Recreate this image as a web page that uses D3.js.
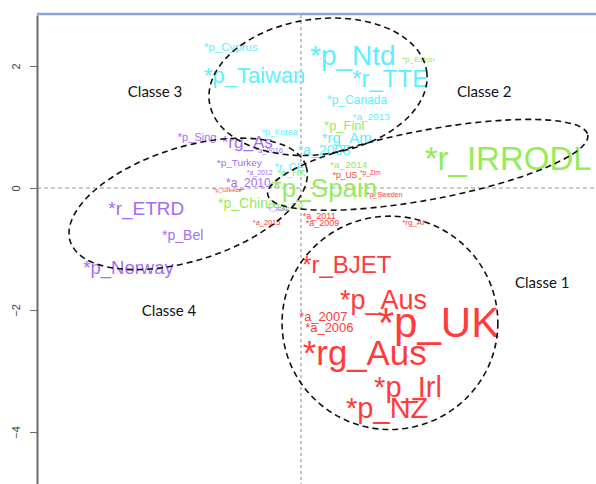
<!DOCTYPE html>
<html>
<head>
<meta charset="utf-8">
<script src="https://cdn.jsdelivr.net/npm/d3@7"></script>
<style>
  body { margin:0; background:#fff; }
  svg text { font-family:"Liberation Sans", Arial, sans-serif; }
</style>
</head>
<body>
<div id="chart"></div>
<script>
//
//  factor map with class ellipses (labels sized by contribution, cex)
//
const groups = ["cyan", "green", "purple", "red"];
const groupColor = {cyan:"#5cf0ff", green:"#93ec5a", purple:"#a46cf6", red:"#ff3b3b"};

const cyanLabels = ["*p_Cyprus","*p_Taiwan","*p_Ntd","*r_TTE","*p_Canada","*a_2013","*rg_Am","*a_2008","*p_Korea","*r_CE"];
const cyanX = [-1.59,-1.59,0.15,0.84,0.43,0.85,0.34,-0.05,-0.64,-0.43];
const cyanY = [2.31,1.85,2.18,1.80,1.44,1.18,0.82,0.62,0.92,0.34];
const cyanCex = [0.96,1.83,2.33,2.0,1.0,0.83,1.25,1.17,0.71,0.92];

const greenLabels = ["*p_Eston","*p_Finl","*r_IRRODL","*a_2014","*p_HK","*p_Spain","*p_China","*rg_Eu"];
const greenX = [1.66,0.38,2.03,0.48,-0.39,-0.48,-1.36,-0.46];
const greenY = [2.11,1.02,0.49,0.38,0.25,0.0,-0.25,-0.28];
const greenCex = [0.67,1.08,2.75,0.83,0.83,2.17,1.17,0.83];

const purpleLabels = ["*p_Sing","*rg_As","*a_2016","*p_Turkey","*a_2012","*a_2010","*r_JEAP","*r_ETRD","*p_Bel","*p_Norway"];
const purpleX = [-2.02,-1.30,-0.75,-1.38,-0.89,-1.23,-0.56,-3.16,-2.28,-3.57];
const purpleY = [0.84,0.75,0.61,0.41,0.25,0.08,-0.34,-0.34,-0.77,-1.31];
const purpleCex = [0.92,1.42,0.62,0.83,0.58,1.0,0.5,1.58,1.17,1.54];

const redLabels = ["*p_Greece","*a_2015","*a_2011","*a_2009","*p_US","*p_Zim","*p_Sweden","*rg_Af","*r_BJET","*p_Aus","*a_2007","*a_2006","*p_UK","*rg_Aus","*p_Irl","*p_NZ"];
const redX = [-1.44,-0.79,0.03,0.08,0.52,0.97,1.08,1.66,0.02,0.64,-0.03,0.07,1.26,0.03,1.20,0.74];
const redY = [-0.03,-0.56,-0.46,-0.57,0.21,0.26,-0.10,-0.57,-1.26,-1.84,-2.10,-2.28,-2.21,-2.70,-3.26,-3.61];
const redCex = [0.5,0.62,0.75,0.75,0.71,0.54,0.58,0.67,2.0,2.25,1.08,1.08,3.5,2.9,2.42,2.42];

// class ellipses: centre, radii (axis units), rotation in degrees
const classNames = ["Classe 1","Classe 2","Classe 3","Classe 4"];
const classCx = [1.46,2.08,0.28,-1.85];
const classCy = [-2.21,0.38,1.66,-0.26];
const classRx = [1.77,2.67,1.80,2.03];
const classRy = [1.75,0.57,1.11,0.93];
const classRot = [0,-10.6,-8,-17.6];
const classLabelX = [3.51,2.56,-2.84,-2.61];
const classLabelY = [-1.54,1.59,1.59,-2.0];

const yTicks = [-4,-2,0,2];

const W = 596, H = 484;
const svg = d3.select("#chart").append("svg").attr("width", W).attr("height", H);

let x = d3.scaleLinear().domain([-4.33, 4.84]).range([37, 596]);
let y = d3.scaleLinear().domain([2.836, -4.852]).range([15, 484]);
let fontSize = d3.scaleLinear().domain([0, 1]).range([0, 12]);
let unit = x(1) - x(0);

// reference lines at 0
svg.append("line")
  .attr("x1", x.range()[0]).attr("x2", x.range()[1])
  .attr("y1", y(0)).attr("y2", y(0))
  .attr("stroke", "#9a9a9a").attr("stroke-dasharray", "4,3");
svg.append("line")
  .attr("x1", x(0)).attr("x2", x(0))
  .attr("y1", y.range()[0]).attr("y2", y.range()[1])
  .attr("stroke", "#b0b0b0").attr("stroke-width", 1.5).attr("stroke-dasharray", "3,3");

// y axis
let yaxis = svg.append("g")
  .attr("transform", "translate(" + x.range()[0] + ",0)")
  .call(d3.axisLeft(y).tickValues(yTicks).tickSize(7).tickSizeOuter(0));
yaxis.select(".domain").attr("stroke", "#6a6a6a").attr("stroke-width", 2);
yaxis.selectAll(".tick line").attr("stroke", "#6a6a6a");
yaxis.selectAll(".tick text")
  .attr("font-size", 11).attr("fill", "#444")
  .attr("text-anchor", "middle")
  .attr("transform", "translate(-21,0) rotate(-90)")
  .attr("x", 0).attr("dy", "0.35em");

// top border (blue)
svg.append("line")
  .attr("x1", x.range()[0]).attr("x2", W)
  .attr("y1", 14).attr("y2", 14)
  .attr("stroke", "#88a8d6").attr("stroke-width", 2.5);

// labels
function series(lbls, xs, ys, cex) {
  return lbls.map((l, i) => ({label:l, x:xs[i], y:ys[i], cex:cex[i]}));
}
const allData = {
  cyan: series(cyanLabels, cyanX, cyanY, cyanCex),
  green: series(greenLabels, greenX, greenY, greenCex),
  purple: series(purpleLabels, purpleX, purpleY, purpleCex),
  red: series(redLabels, redX, redY, redCex),
};
for (let g of groups) {
  svg.append("g").selectAll("text")
    .data(allData[g])
    .enter()
    .append("text")
    .attr("x", d => x(d.x))
    .attr("y", d => y(d.y))
    .attr("dominant-baseline", "central")
    .attr("font-size", d => fontSize(d.cex))
    .attr("fill", groupColor[g])
    .text(d => d.label);
}

// ellipses
let ell = classNames.map((n, i) => ({name:n, cx:classCx[i], cy:classCy[i], rx:classRx[i], ry:classRy[i], rot:classRot[i], lx:classLabelX[i], ly:classLabelY[i]}));
svg.append("g").selectAll("ellipse")
  .data(ell)
  .enter()
  .append("ellipse")
  .attr("transform", d => "translate(" + x(d.cx) + "," + y(d.cy) + ") rotate(" + d.rot + ")")
  .attr("rx", d => d.rx * unit)
  .attr("ry", d => d.ry * unit)
  .attr("fill", "none")
  .attr("stroke", "#111")
  .attr("stroke-width", 1.6)
  .attr("stroke-dasharray", "6,4");

svg.append("g").selectAll("text")
  .data(ell)
  .enter()
  .append("text")
  .attr("x", d => x(d.lx))
  .attr("y", d => y(d.ly))
  .attr("dominant-baseline", "central")
  .style("font-family", "Lato, 'Open Sans', sans-serif")
  .attr("font-size", 15)
  .attr("fill", "#111")
  .text(d => d.name);
</script>
</body>
</html>
